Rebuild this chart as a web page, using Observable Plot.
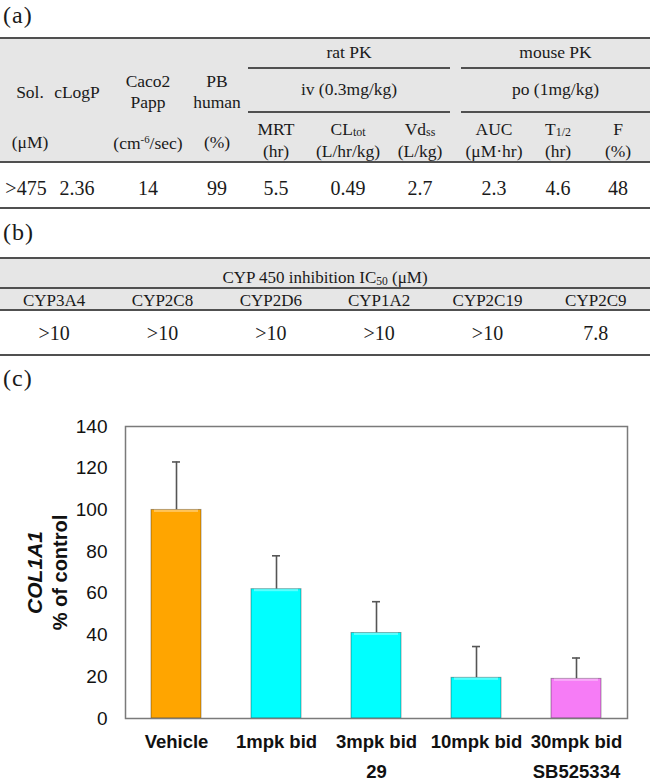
<!DOCTYPE html>
<html><head><meta charset="utf-8">
<script src="https://cdn.jsdelivr.net/npm/d3@7"></script>
<script src="https://cdn.jsdelivr.net/npm/@observablehq/plot@0.6"></script>
<style>
body{margin:0;background:#fff;}
#page{position:relative;width:650px;height:783px;overflow:hidden;font-family:"Liberation Serif","Times New Roman",serif;color:#1a1a1a;}
.t{position:absolute;transform:translate(-50%,-50%);white-space:nowrap;line-height:1;}
.t sub{font-size:0.68em;vertical-align:-0.15em;}
.t sup{font-size:0.62em;vertical-align:0.55em;}
.hl{position:absolute;background:#505050;}
.band{position:absolute;background:#e6e6e6;left:0;width:650px;}
.lbl{position:absolute;font-size:24px;line-height:1;transform:translateY(-50%);left:3px;letter-spacing:1px;}
#chart{position:absolute;left:0;top:395px;}
</style></head>
<body><div id="page"><div id="chart"></div></div>
<script>
// ---------- data ----------
const panelLabels = ["(a)", "(b)", "(c)"];

// Table (a)
const pkGroups = ["rat PK", "mouse PK"];
const pkRoutes = ["iv (0.3mg/kg)", "po (1mg/kg)"];
const propNames = [["Sol."], ["cLogP"], ["Caco2", "Papp"], ["PB", "human"]];
const propUnits = ["(μM)", "", "(cm<sup>-6</sup>/sec)", "(%)"];
const pkParams = [["MRT", "(hr)"], ["CL<sub>tot</sub>", "(L/hr/kg)"], ["Vd<sub>ss</sub>", "(L/kg)"],
                  ["AUC", "(μM·hr)"], ["T<sub>1/2</sub>", "(hr)"], ["F", "(%)"]];
const tableAValues = [">475", "2.36", "14", "99", "5.5", "0.49", "2.7", "2.3", "4.6", "48"];

// Table (b)
const cypTitle = "CYP 450 inhibition IC<sub>50</sub> (μM)";
const cypIsoforms = ["CYP3A4", "CYP2C8", "CYP2D6", "CYP1A2", "CYP2C19", "CYP2C9"];
const cypIC50 = [">10", ">10", ">10", ">10", ">10", "7.8"];

// Chart (c)
const doses = ["Vehicle", "1mpk bid", "3mpk bid", "10mpk bid", "30mpk bid"];
const compounds = ["Vehicle", "29", "29", "29", "SB525334"];
const pctControl = [100, 62, 41, 19.5, 19];
const sdUpper = [23, 16, 15, 15, 10];
const compoundLabels = ["", "", "29", "", "SB525334"];
const yTicks = [0, 20, 40, 60, 80, 100, 120, 140];
const yLabelLines = ["COL1A1", "% of control"];

// ---------- layout (positions kept separate from data) ----------
const page = document.getElementById("page");
function txt(html, x, y, size, extra) {
  const d = document.createElement("div");
  d.className = "t";
  d.innerHTML = html;
  d.style.left = x + "px"; d.style.top = y + "px"; d.style.fontSize = size + "px";
  if (extra) Object.assign(d.style, extra);
  page.appendChild(d);
}
function hline(x1, x2, y, w) {
  const d = document.createElement("div");
  d.className = "hl";
  Object.assign(d.style, {left: x1 + "px", width: (x2 - x1) + "px", top: (y - w / 2) + "px", height: w + "px"});
  page.appendChild(d);
}
function band(y1, y2) {
  const d = document.createElement("div");
  d.className = "band";
  Object.assign(d.style, {top: y1 + "px", height: (y2 - y1) + "px"});
  page.appendChild(d);
}
function label(s, y) {
  const d = document.createElement("div");
  d.className = "lbl"; d.textContent = s; d.style.top = y + "px";
  page.appendChild(d);
}

// Panel labels
[15, 232, 378].forEach((y, i) => label(panelLabels[i], y));

// Table (a)
const colA = [30, 77, 148, 217, 276, 348, 420, 494, 558, 618];
const groupSpan = [[248, 450], [461, 650]];
band(38, 162);
hline(0, 650, 38, 2);
hline(0, 650, 162, 2);
hline(0, 650, 208, 2);
const HS = 17.5;
groupSpan.forEach(([a, b], i) => {
  hline(a, b, 68, 1.6);
  hline(a, b, 112, 1.6);
  txt(pkGroups[i], (a + b) / 2, 53, HS);
  txt(pkRoutes[i], (a + b) / 2, 90, HS);
});
propNames.forEach((lines, i) => {
  if (lines.length === 1) txt(lines[0], colA[i], 93, HS);
  else { txt(lines[0], colA[i], 82, HS); txt(lines[1], colA[i], 103, HS); }
  if (propUnits[i]) txt(propUnits[i], colA[i], 143, HS);
});
pkParams.forEach((lines, j) => {
  txt(lines[0], colA[4 + j], 130, HS);
  txt(lines[1], colA[4 + j], 152, HS);
});
tableAValues.forEach((v, i) => txt(v, colA[i] + (i === 0 ? -4 : 0), 188, 20));

// Table (b)
band(258, 310);
hline(0, 650, 258, 2);
hline(0, 650, 288, 1.6);
hline(0, 650, 310, 1.6);
hline(0, 650, 355, 2);
txt(cypTitle, 325, 278, 17);
cypIsoforms.forEach((c, i) => {
  const cx = 650 / 6 * (i + 0.5);
  txt(c, cx, 300, 17);
  txt(cypIC50[i], cx, 333, 20);
});

// ---------- chart (c) ----------
const rows = doses.map((dose, i) => ({dose, compound: compounds[i], pct: pctControl[i], sd: sdUpper[i], name: compoundLabels[i]}));

const chart = Plot.plot({
  width: 650,
  height: 388,
  marginTop: 31,
  marginBottom: 65,
  marginLeft: 125,
  marginRight: 23,
  style: {fontFamily: "'Liberation Sans', Arial, sans-serif", fontSize: "19px", color: "#111", background: "transparent"},
  x: {domain: doses, paddingInner: 0.5, paddingOuter: 0.25, axis: null},
  y: {domain: [0, 140], ticks: yTicks, tickSize: 0, tickPadding: 18, label: null},
  color: {domain: ["Vehicle", "29", "SB525334"], range: ["#ffa500", "#00ffff", "#f67cf6"]},
  marks: [
    Plot.ruleX(rows, {x: "dose", y1: "pct", y2: d => d.pct + d.sd, stroke: "#555", strokeWidth: 1.6}),
    Plot.tickY(rows, {x: "dose", y: d => d.pct + d.sd, stroke: "#555", strokeWidth: 1.6, insetLeft: 21, insetRight: 21}),
    Plot.barY(rows, {x: "dose", y: "pct", fill: "compound", stroke: "#000", strokeOpacity: 0.35, strokeWidth: 1}),
    Plot.barY(rows, {x: "dose", y1: d => d.pct - 1.2, y2: "pct", fill: "#fff", fillOpacity: 0.35, insetLeft: 3, insetRight: 3}),
    Plot.frame({stroke: "#7a7a7a", strokeWidth: 1.5}),
    Plot.text(rows, {x: "dose", text: "dose", frameAnchor: "bottom", dy: 29, fontWeight: "bold", fontSize: 18.5}),
    Plot.text(rows, {x: "dose", text: "name", frameAnchor: "bottom", dy: 59, fontWeight: "bold", fontSize: 18.5}),
    Plot.text([yLabelLines[0]], {text: d => d, frameAnchor: "left", textAnchor: "middle", rotate: -90, dx: -90, fontWeight: "bold", fontStyle: "italic", fontSize: 21}),
    Plot.text([yLabelLines[1]], {text: d => d, frameAnchor: "left", textAnchor: "middle", rotate: -90, dx: -65, fontWeight: "bold", fontSize: 20})
  ]
});
document.getElementById("chart").appendChild(chart);
</script>
</body></html>
